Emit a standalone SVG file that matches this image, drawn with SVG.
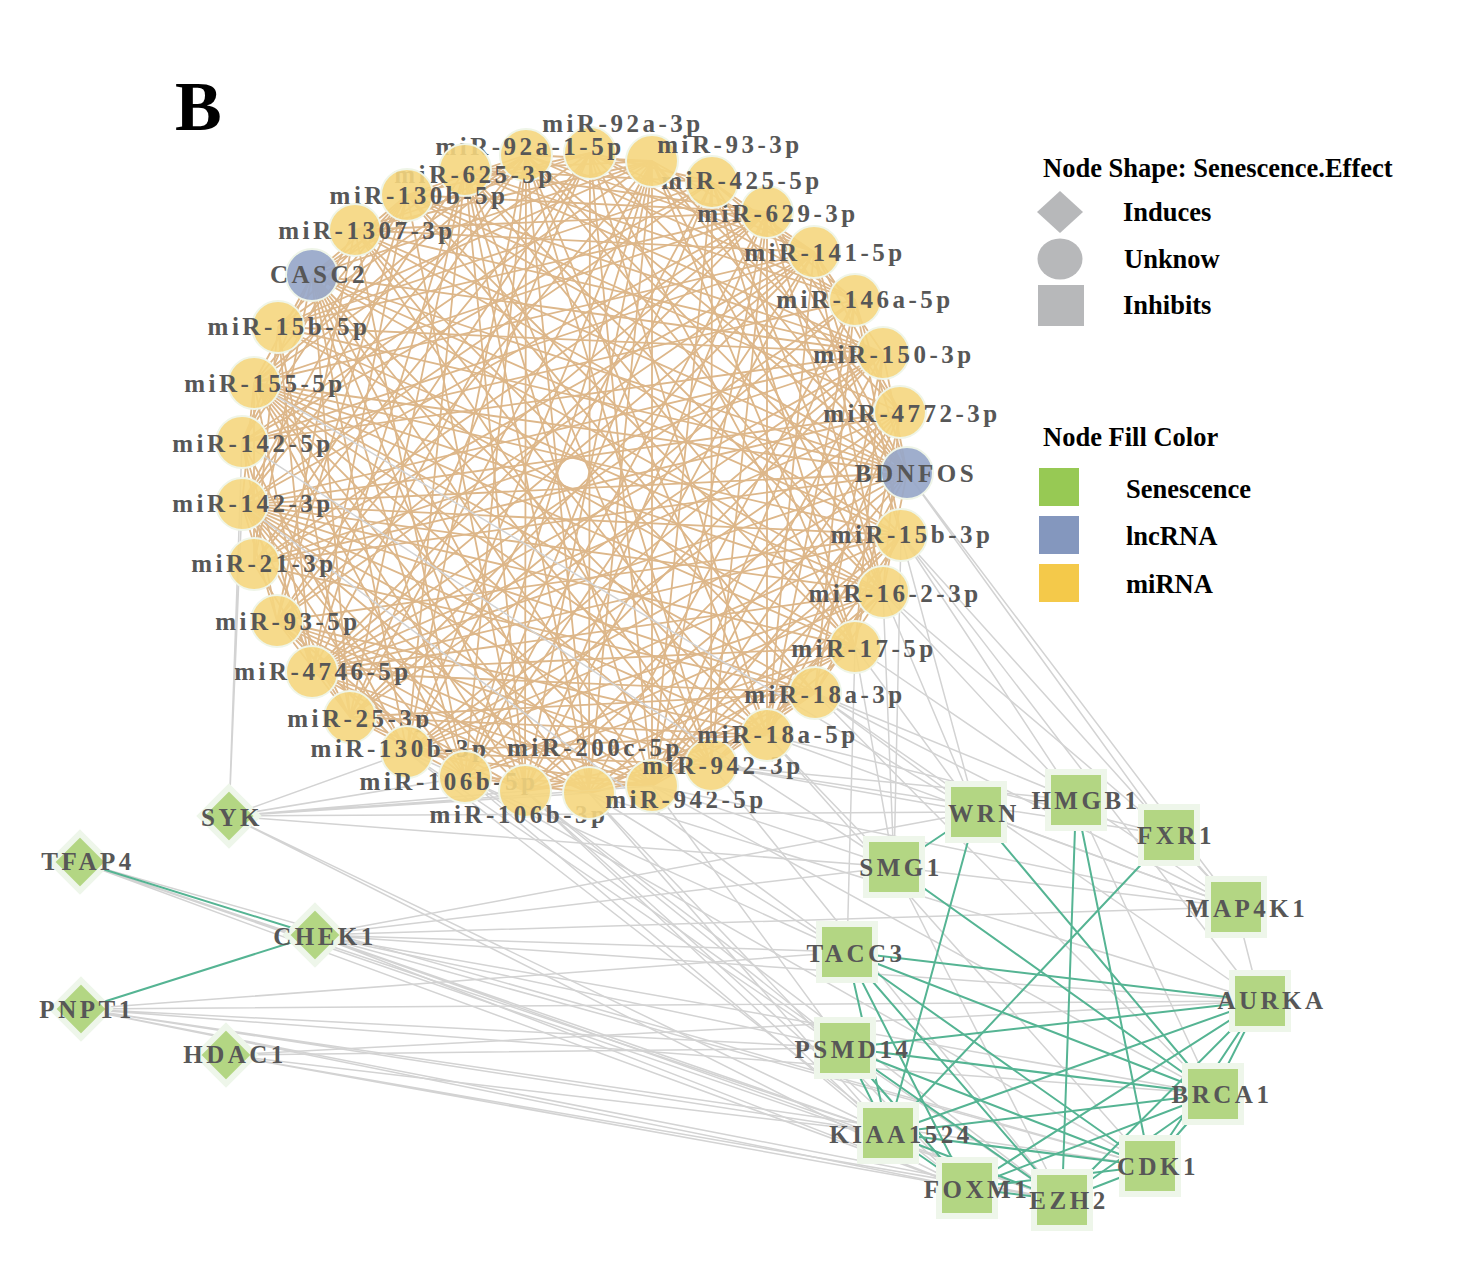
<svg xmlns="http://www.w3.org/2000/svg" width="1483" height="1269" viewBox="0 0 1483 1269">
<style>
.mm{fill:none;stroke:#DDB78A;stroke-width:1.8;stroke-linejoin:round}
.gg{fill:none;stroke:#D3D3D3;stroke-width:1.5;stroke-linejoin:round}
.ge{fill:none;stroke:#55B493;stroke-width:2;stroke-linejoin:round}
.mi circle{fill:#F5D67E;fill-opacity:0.9;stroke:#EFF5E8;stroke-width:2}
.ln circle{fill:#97A7C9;fill-opacity:0.92;stroke:#EFF5E8;stroke-width:2}
.gs rect,.gd polygon{fill:#B3D683;stroke:#EEF6EA;stroke-width:6}
text{font-family:"Liberation Serif","Times New Roman",serif;font-weight:bold}
.lbl{font-size:25px;fill:#575757;letter-spacing:3.5px;text-anchor:middle}
.lg{font-size:26.5px;fill:#000}
.lgs{fill:#B7B8BA}
</style>
<rect width="1483" height="1269" fill="#FFFFFF"/>
<text x="175" y="130" style="font-size:70px;fill:#000">B</text>
<g id="connectors">
<g id="mirna-edges" class="mm">
<path d="M712 182L590 153L814 252M855 300L590 153L907 473M855 647L590 153L767 735M652 786L590 153L589 793"/>
<path d="M814 252L652 161L900 412M907 473L652 161L883 592M855 647L652 161L652 786M589 793L652 161L525 791"/>
<path d="M814 252L712 182L855 300M907 473L712 182L883 592M855 647L712 182L711 765M652 786L712 182L465 777"/>
<path d="M900 412L767 212L907 473M883 592L767 212L767 735M711 765L767 212L652 786M525 791L767 212L465 777"/>
<path d="M883 353L814 252L900 412M901 535L814 252L883 592M767 735L814 252L525 791M465 777L814 252L350 717"/>
<path d="M907 473L855 300L901 535M815 693L855 300L767 735M652 786L855 300L589 793M350 717L855 300L312 672"/>
<path d="M907 473L883 353L855 647M815 693L883 353L652 786M465 777L883 353L407 752M350 717L883 353L312 672"/>
<path d="M883 592L900 412L855 647M767 735L900 412L652 786M525 791L900 412L407 752M312 672L900 412L254 564"/>
<path d="M883 592L907 473L767 735M652 786L907 473L525 791M407 752L907 473L312 672M254 564L907 473L242 504"/>
<path d="M815 693L901 535L767 735M652 786L901 535L589 793M407 752L901 535L312 672M277 621L901 535L242 504"/>
<path d="M815 693L883 592L711 765M652 786L883 592L465 777M407 752L883 592L312 672M242 504L883 592L254 383"/>
<path d="M711 765L855 647L589 793M525 791L855 647L465 777M312 672L855 647L242 504M254 383L855 647L278 327"/>
<path d="M711 765L815 693L652 786M589 793L815 693L350 717M312 672L815 693L254 564M242 504L815 693L254 383"/>
<path d="M525 791L767 735L407 752M350 717L767 735L277 621M242 504L767 735L254 383M312 275L767 735L355 230"/>
<path d="M589 793L711 765L525 791M407 752L711 765L277 621M242 504L711 765L254 383M312 275L711 765L355 230"/>
<path d="M465 777L652 786L407 752M312 672L652 786L277 621M242 504L652 786L254 383M312 275L652 786L465 170"/>
<path d="M465 777L589 793L312 672M277 621L589 793L242 504M254 383L589 793L312 275M465 170L589 793L526 155"/>
<path d="M350 717L525 791L312 672M242 504L525 791L254 383M312 275L525 791L407 195M465 170L525 791L526 155"/>
<path d="M350 717L465 777L277 621M242 504L465 777L254 383M312 275L465 777L355 230M526 155L465 777L652 161"/>
<path d="M277 621L407 752L242 504M242 442L407 752L312 275M465 170L407 752L526 155M652 161L407 752L712 182"/>
<path d="M277 621L350 717L254 564M242 504L350 717L278 327M312 275L350 717L465 170M590 153L350 717L652 161"/>
<path d="M242 442L312 672L254 383M278 327L312 672L407 195M465 170L312 672L590 153M767 212L312 672L814 252"/>
<path d="M242 504L277 621L242 442M355 230L277 621L407 195M590 153L277 621L652 161M767 212L277 621L814 252"/>
<path d="M254 383L254 564L278 327M312 275L254 564L526 155M590 153L254 564L767 212M814 252L254 564L883 353"/>
<path d="M254 383L242 504L407 195M465 170L242 504L526 155M712 182L242 504L767 212M883 353L242 504L900 412"/>
<path d="M312 275L242 442L355 230M407 195L242 442L652 161M712 182L242 442L814 252M855 300L242 442L883 353"/>
<path d="M312 275L254 383L407 195M526 155L254 383L590 153M767 212L254 383L814 252M907 473L254 383L901 535"/>
<path d="M407 195L278 327L526 155M652 161L278 327L712 182M767 212L278 327L883 353M907 473L278 327L883 592"/>
<path d="M407 195L312 275L465 170M526 155L312 275L652 161M883 353L312 275L907 473M901 535L312 275L883 592"/>
<path d="M590 153L355 230L652 161M767 212L355 230L814 252M883 353L355 230L907 473M901 535L355 230L815 693"/>
<path d="M526 155L407 195L590 153M767 212L407 195L883 353M900 412L407 195L907 473M855 647L407 195L815 693"/>
<path d="M652 161L465 170L712 182M767 212L465 170L855 300M883 353L465 170L883 592M855 647L465 170L711 765"/>
<path d="M652 161L526 155L814 252M855 300L526 155L907 473M901 535L526 155L883 592M767 735L526 155L711 765"/>
</g>
<g id="gene-edges" class="gg">
<path d="M242 504L229 816L242 442M407 752L229 816L465 777M525 791L229 816L589 793M652 786L229 816L894 867M976 812L229 816L888 1133M229 816L967 1188"/>
<path d="M888 1133L80 862L967 1188M1062 1200L80 862L1150 1166"/>
<path d="M976 812L315 935L894 867M847 952L315 935L845 1048M888 1133L315 935L967 1188M1062 1200L315 935L1150 1166M1213 1094L315 935L1260 1001M315 935L1236 907"/>
<path d="M1260 1001L81 1009L845 1048M888 1133L81 1009L967 1188M1062 1200L81 1009L1150 1166M1213 1094L81 1009L847 952"/>
<path d="M845 1048L226 1055L888 1133M967 1188L226 1055L1062 1200M226 1055L1260 1001"/>
<path d="M1169 835L907 473L1236 907"/>
<path d="M976 812L901 535L894 867M1236 907L901 535L1260 1001M901 535L1076 800"/>
<path d="M976 812L883 592L894 867M1169 835L883 592L1076 800"/>
<path d="M976 812L855 647L894 867M847 952L855 647L1236 907"/>
<path d="M976 812L815 693L1076 800M1236 907L815 693L1260 1001M815 693L1213 1094"/>
<path d="M894 867L767 735L1169 835M1236 907L767 735L1150 1166"/>
<path d="M976 812L711 765L1076 800M1169 835L711 765L1062 1200"/>
<path d="M894 867L652 786L1236 907M845 1048L652 786L1213 1094"/>
<path d="M888 1133L589 793L967 1188M847 952L589 793L1260 1001"/>
<path d="M845 1048L525 791L888 1133M967 1188L525 791L1062 1200"/>
<path d="M888 1133L465 777L1150 1166M465 777L845 1048"/>
<path d="M967 1188L407 752L1062 1200M407 752L847 952"/>
<path d="M254 383L976 812M242 442L894 867M242 504L847 952"/>
<path d="M1236 907L1260 1001M976 812L1236 907M894 867L1236 907M894 867L1062 1200M1076 800L1213 1094M1169 835L1236 907"/>
</g>
<g id="senescence-edges" class="ge">
<path d="M847 952L888 1133M847 952L967 1188M847 952L1062 1200M847 952L1150 1166M847 952L1213 1094M847 952L1260 1001"/>
<path d="M845 1048L888 1133M845 1048L967 1188M845 1048L1062 1200M845 1048L1150 1166M845 1048L1213 1094M845 1048L1260 1001"/>
<path d="M888 1133L967 1188M888 1133L1062 1200M888 1133L1150 1166M888 1133L1213 1094M888 1133L1260 1001"/>
<path d="M967 1188L1062 1200M967 1188L1150 1166M967 1188L1213 1094M967 1188L1260 1001"/>
<path d="M1062 1200L1150 1166M1062 1200L1213 1094M1062 1200L1260 1001M1150 1166L1213 1094M1150 1166L1260 1001M1213 1094L1260 1001"/>
<path d="M976 812L894 867M976 812L888 1133M976 812L1213 1094M894 867L1213 1094M1076 800L1062 1200M1076 800L1150 1166M1169 835L888 1133"/>
<path d="M80 862L315 935M81 1009L315 935"/>
</g>
</g>
<g id="nodes">
<g id="n-miR-92a-3p" class="mi"><circle cx="590" cy="153" r="26"/><text class="lbl" x="623" y="132">miR-92a-3p</text></g>
<g id="n-miR-92a-1-5p" class="mi"><circle cx="526" cy="155" r="26"/><text class="lbl" x="530" y="155">miR-92a-1-5p</text></g>
<g id="n-miR-625-3p" class="mi"><circle cx="465" cy="170" r="26"/><text class="lbl" x="475" y="183">miR-625-3p</text></g>
<g id="n-miR-130b-5p" class="mi"><circle cx="407" cy="195" r="26"/><text class="lbl" x="419" y="204">miR-130b-5p</text></g>
<g id="n-miR-1307-3p" class="mi"><circle cx="355" cy="230" r="26"/><text class="lbl" x="367" y="239">miR-1307-3p</text></g>
<g id="n-CASC2" class="ln"><circle cx="312" cy="275" r="26"/><text class="lbl" x="319" y="283">CASC2</text></g>
<g id="n-miR-15b-5p" class="mi"><circle cx="278" cy="327" r="26"/><text class="lbl" x="289" y="335">miR-15b-5p</text></g>
<g id="n-miR-155-5p" class="mi"><circle cx="254" cy="383" r="26"/><text class="lbl" x="265" y="392">miR-155-5p</text></g>
<g id="n-miR-142-5p" class="mi"><circle cx="242" cy="442" r="26"/><text class="lbl" x="253" y="452">miR-142-5p</text></g>
<g id="n-miR-142-3p" class="mi"><circle cx="242" cy="504" r="26"/><text class="lbl" x="253" y="512">miR-142-3p</text></g>
<g id="n-miR-21-3p" class="mi"><circle cx="254" cy="564" r="26"/><text class="lbl" x="264" y="572">miR-21-3p</text></g>
<g id="n-miR-93-5p" class="mi"><circle cx="277" cy="621" r="26"/><text class="lbl" x="288" y="630">miR-93-5p</text></g>
<g id="n-miR-4746-5p" class="mi"><circle cx="312" cy="672" r="26"/><text class="lbl" x="323" y="680">miR-4746-5p</text></g>
<g id="n-miR-25-3p" class="mi"><circle cx="350" cy="717" r="26"/><text class="lbl" x="360" y="727">miR-25-3p</text></g>
<g id="n-miR-130b-3p" class="mi"><circle cx="407" cy="752" r="26"/><text class="lbl" x="400" y="757">miR-130b-3p</text></g>
<g id="n-miR-106b-5p" class="mi"><circle cx="465" cy="777" r="26"/><text class="lbl" x="449" y="790">miR-106b-5p</text></g>
<g id="n-miR-106b-3p" class="mi"><circle cx="525" cy="791" r="26"/><text class="lbl" x="519" y="823">miR-106b-3p</text></g>
<g id="n-miR-200c-5p" class="mi"><circle cx="589" cy="793" r="26"/><text class="lbl" x="595" y="756">miR-200c-5p</text></g>
<g id="n-miR-942-5p" class="mi"><circle cx="652" cy="786" r="26"/><text class="lbl" x="686" y="808">miR-942-5p</text></g>
<g id="n-miR-942-3p" class="mi"><circle cx="711" cy="765" r="26"/><text class="lbl" x="723" y="774">miR-942-3p</text></g>
<g id="n-miR-18a-5p" class="mi"><circle cx="767" cy="735" r="26"/><text class="lbl" x="778" y="743">miR-18a-5p</text></g>
<g id="n-miR-18a-3p" class="mi"><circle cx="815" cy="693" r="26"/><text class="lbl" x="825" y="703">miR-18a-3p</text></g>
<g id="n-miR-17-5p" class="mi"><circle cx="855" cy="647" r="26"/><text class="lbl" x="864" y="657">miR-17-5p</text></g>
<g id="n-miR-16-2-3p" class="mi"><circle cx="883" cy="592" r="26"/><text class="lbl" x="895" y="602">miR-16-2-3p</text></g>
<g id="n-miR-15b-3p" class="mi"><circle cx="901" cy="535" r="26"/><text class="lbl" x="912" y="543">miR-15b-3p</text></g>
<g id="n-BDNFOS" class="ln"><circle cx="907" cy="473" r="26"/><text class="lbl" x="916" y="482">BDNFOS</text></g>
<g id="n-miR-4772-3p" class="mi"><circle cx="900" cy="412" r="26"/><text class="lbl" x="912" y="422">miR-4772-3p</text></g>
<g id="n-miR-150-3p" class="mi"><circle cx="883" cy="353" r="26"/><text class="lbl" x="894" y="363">miR-150-3p</text></g>
<g id="n-miR-146a-5p" class="mi"><circle cx="855" cy="300" r="26"/><text class="lbl" x="865" y="308">miR-146a-5p</text></g>
<g id="n-miR-141-5p" class="mi"><circle cx="814" cy="252" r="26"/><text class="lbl" x="825" y="261">miR-141-5p</text></g>
<g id="n-miR-629-3p" class="mi"><circle cx="767" cy="212" r="26"/><text class="lbl" x="778" y="222">miR-629-3p</text></g>
<g id="n-miR-425-5p" class="mi"><circle cx="712" cy="182" r="26"/><text class="lbl" x="742" y="189">miR-425-5p</text></g>
<g id="n-miR-93-3p" class="mi"><circle cx="652" cy="161" r="26"/><text class="lbl" x="730" y="153">miR-93-3p</text></g>

<g id="n-SYK" class="gd" transform="translate(229 816)"><polygon points="0,-28.5 28.5,0 0,28.5 -28.5,0"/><text class="lbl" x="3" y="10">SYK</text></g>
<g id="n-TFAP4" class="gd" transform="translate(80 862)"><polygon points="0,-28.5 28.5,0 0,28.5 -28.5,0"/><text class="lbl" x="8" y="8">TFAP4</text></g>
<g id="n-CHEK1" class="gd" transform="translate(315 935)"><polygon points="0,-28.5 28.5,0 0,28.5 -28.5,0"/><text class="lbl" x="10" y="10">CHEK1</text></g>
<g id="n-PNPT1" class="gd" transform="translate(81 1009)"><polygon points="0,-28.5 28.5,0 0,28.5 -28.5,0"/><text class="lbl" x="6" y="9">PNPT1</text></g>
<g id="n-HDAC1" class="gd" transform="translate(226 1055)"><polygon points="0,-28.5 28.5,0 0,28.5 -28.5,0"/><text class="lbl" x="9" y="8">HDAC1</text></g>

<g id="n-WRN" class="gs" transform="translate(976 812)"><rect x="-28" y="-28" width="56" height="56"/><text class="lbl" x="8" y="10">WRN</text></g>
<g id="n-HMGB1" class="gs" transform="translate(1076 800)"><rect x="-28" y="-28" width="56" height="56"/><text class="lbl" x="10" y="9">HMGB1</text></g>
<g id="n-FXR1" class="gs" transform="translate(1169 835)"><rect x="-28" y="-28" width="56" height="56"/><text class="lbl" x="7" y="9">FXR1</text></g>
<g id="n-SMG1" class="gs" transform="translate(894 867)"><rect x="-28" y="-28" width="56" height="56"/><text class="lbl" x="7" y="9">SMG1</text></g>
<g id="n-MAP4K1" class="gs" transform="translate(1236 907)"><rect x="-28" y="-28" width="56" height="56"/><text class="lbl" x="11" y="10">MAP4K1</text></g>
<g id="n-TACC3" class="gs" transform="translate(847 952)"><rect x="-28" y="-28" width="56" height="56"/><text class="lbl" x="9" y="10">TACC3</text></g>
<g id="n-AURKA" class="gs" transform="translate(1260 1001)"><rect x="-28" y="-28" width="56" height="56"/><text class="lbl" x="12" y="8">AURKA</text></g>
<g id="n-PSMD14" class="gs" transform="translate(845 1048)"><rect x="-28" y="-28" width="56" height="56"/><text class="lbl" x="8" y="10">PSMD14</text></g>
<g id="n-BRCA1" class="gs" transform="translate(1213 1094)"><rect x="-28" y="-28" width="56" height="56"/><text class="lbl" x="9" y="9">BRCA1</text></g>
<g id="n-KIAA1524" class="gs" transform="translate(888 1133)"><rect x="-28" y="-28" width="56" height="56"/><text class="lbl" x="13" y="10">KIAA1524</text></g>
<g id="n-CDK1" class="gs" transform="translate(1150 1166)"><rect x="-28" y="-28" width="56" height="56"/><text class="lbl" x="8" y="9">CDK1</text></g>
<g id="n-FOXM1" class="gs" transform="translate(967 1188)"><rect x="-28" y="-28" width="56" height="56"/><text class="lbl" x="10" y="10">FOXM1</text></g>
<g id="n-EZH2" class="gs" transform="translate(1062 1200)"><rect x="-28" y="-28" width="56" height="56"/><text class="lbl" x="7" y="9">EZH2</text></g>
</g>
<g id="legend">
<text class="lg" x="1043" y="177">Node Shape: Senescence.Effect</text>
<polygon class="lgs" points="1060,191 1083,212 1060,233 1037,212"/>
<ellipse class="lgs" cx="1060" cy="259" rx="22.5" ry="20.5"/>
<rect class="lgs" x="1038" y="285" width="46" height="41"/>
<text class="lg" x="1123" y="221">Induces</text>
<text class="lg" x="1124" y="268">Unknow</text>
<text class="lg" x="1123" y="314">Inhibits</text>
<text class="lg" x="1043" y="446">Node Fill Color</text>
<rect x="1039" y="468" width="40" height="38" fill="#97C954"/>
<rect x="1039" y="516" width="40" height="38" fill="#8497BE"/>
<rect x="1039" y="564" width="40" height="38" fill="#F4C94A"/>
<text class="lg" x="1126" y="498">Senescence</text>
<text class="lg" x="1126" y="545">lncRNA</text>
<text class="lg" x="1126" y="593">miRNA</text>
</g>
</svg>
